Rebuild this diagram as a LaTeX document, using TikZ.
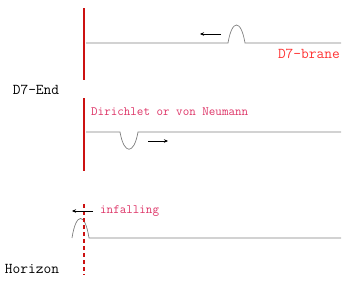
\documentclass[tikz,border=0pt]{standalone}
\usetikzlibrary{arrows.meta}
\definecolor{wallred}{HTML}{CC1111}
\definecolor{brred}{HTML}{FF3333}
\definecolor{pinkred}{HTML}{DD3366}
\definecolor{strgray}{HTML}{808080}
\tikzset{
  wall/.style={wallred, line width=2.6pt},
  horizonwall/.style={wallred, line width=2.6pt, dash pattern=on 4pt off 3pt},
  string/.style={strgray, line width=0.7pt},
  move/.style={black, line width=0.5pt, -{Stealth[length=4pt,width=3.5pt]}},
  biglabel/.style={font=\ttfamily\fontsize{15}{17}\selectfont, inner sep=0pt},
  smalllabel/.style={font=\ttfamily\fontsize{12.7}{14}\selectfont, inner sep=0pt, pinkred}
}
\begin{document}
\begin{tikzpicture}[x=1pt,y=-1pt]
\useasboundingbox (0,0) rectangle (348,281);
% top panel
\coordinate (w1a) at (84,8);
\coordinate (w1b) at (84,80);
\draw[wall] (w1a) -- (w1b);
\coordinate (s1a) at (86,43);
\coordinate (s1b) at (341,43);
\draw[string] (s1a) -- (228,43) .. controls (232,19) and (241,19) .. (245,43) -- (s1b);
\coordinate (a1s) at (221,34);
\coordinate (a1e) at (200,34);
\draw[move] (a1s) -- (a1e);
\node[biglabel, brred, anchor=east] (brane) at (340,54) {D7-brane};
\node[biglabel, anchor=center] (d7end) at (36,90) {D7-End};
% middle panel
\coordinate (w2a) at (84,98);
\coordinate (w2b) at (84,171);
\draw[wall] (w2a) -- (w2b);
\node[smalllabel, anchor=west] (bc) at (91,112) {Dirichlet or von Neumann};
\coordinate (s2a) at (86,132);
\coordinate (s2b) at (341,132);
\draw[string] (s2a) -- (120,132) .. controls (124,155) and (134,155) .. (138,132) -- (s2b);
\coordinate (a2s) at (148,141);
\coordinate (a2e) at (168,141);
\draw[move] (a2s) -- (a2e);
% bottom panel
\coordinate (s3a) at (72,238);
\coordinate (s3b) at (341,238);
\draw[string] (s3a) .. controls (76,212) and (85,212) .. (89,238) -- (s3b);
\coordinate (w3a) at (84,204);
\coordinate (w3b) at (84,275);
\draw[horizonwall] (w3a) -- (w3b);
\coordinate (a3s) at (93,211);
\coordinate (a3e) at (72,211);
\draw[move] (a3s) -- (a3e);
\node[smalllabel, anchor=west] (inf) at (100,211) {infalling};
\node[biglabel, anchor=center] (hor) at (32,269) {Horizon};
\end{tikzpicture}
\end{document}
